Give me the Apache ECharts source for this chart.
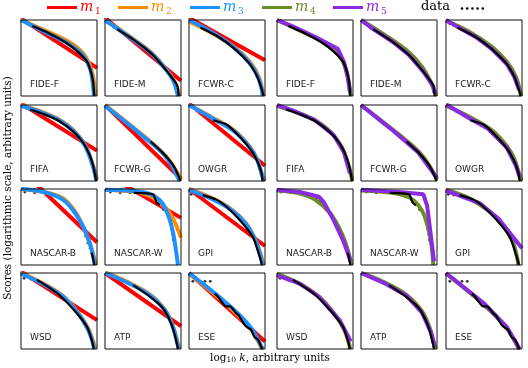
<!DOCTYPE html>
<html><head><meta charset="utf-8">
<script src="https://cdn.jsdelivr.net/npm/echarts@6/dist/echarts.min.js"></script>
<style>html,body{margin:0;padding:0;background:#fff}#c{width:528px;height:368px}</style>
</head><body><div id="c"></div>
<script>
// Panel titles (row-major, 3 per row; each shown twice: left with m1-m3, right with m4-m5)
const panelNames = ['FIDE-F','FIDE-M','FCWR-C','FIFA','FCWR-G','OWGR','NASCAR-B','NASCAR-W','GPI','WSD','ATP','ESE'];

// Coordinates are normalised log10 k (x) and log score (y), 0..1 within each panel
const dataDots = [
  [[.04,.99],[.09,.97]],
  [[.04,.96],[.12,.9]],
  [[.05,.95],[.1,.93]],
  [[.04,.98],[.08,.96]],
  [[.03,.97],[.08,.93],[.12,.9],[.16,.86],[.2,.83],[.24,.8],[.28,.77],[.32,.74],[.36,.71],[.4,.68],[.44,.65],[.48,.61],[.52,.58],[.56,.55]],
  [[.05,.99],[.14,.91],[.21,.88]],
  [[.05,.96],[.18,.95],[.32,.95],[.4,.93],[.46,.91],[.52,.88],[.57,.84],[.62,.79],[.66,.74],[.7,.69],[.74,.63],[.78,.55],[.82,.46],[.85,.38],[.88,.29],[.91,.22],[.93,.16]],
  [[.07,.96],[.2,.95],[.33,.95],[.42,.95],[.5,.94],[.72,.79],[.77,.73],[.84,.63],[.87,.55],[.88,.47],[.89,.4],[.9,.33]],
  [[.03,.93],[.1,.92]],
  [[.04,.93],[.13,.92]],
  [[.04,.99],[.13,.95],[.24,.91]],
  [[.05,.89],[.14,.89],[.21,.89],[.28,.89]]
];
const dataLine = [
  [[.15,.92],[.2,.9],[.36,.83],[.58,.71],[.75,.58],[.87,.45],[.92,.32],[.95,.18],[.96,.05],[.965,0]],
  [[.16,.88],[.42,.71],[.63,.54],[.82,.32],[.95,.14],[.97,0]],
  [[.15,.9],[.4,.77],[.6,.62],[.8,.42],[.9,.25],[.96,.08],[.98,0]],
  [[.12,.94],[.3,.88],[.5,.79],[.7,.64],[.82,.5],[.9,.35],[.95,.2],[.98,.05],[.99,0]],
  [[.6,.52],[.75,.38],[.85,.27],[.92,.17],[.97,.06],[.99,0]],
  [[.32,.8],[.5,.74],[.67,.58],[.8,.43],[.89,.28],[.95,.12],[.97,0]],
  [[.93,.16],[.96,.03],[.965,0]],
  [[.38,.95],[.63,.93],[.68,.82],[.72,.79]],
  [[.18,.92],[.36,.86],[.5,.76],[.67,.59],[.84,.37],[.93,.11],[.96,0]],
  [[.21,.91],[.47,.74],[.7,.51],[.87,.29],[.93,.12],[.96,0]],
  [[.37,.84],[.59,.69],[.76,.54],[.86,.36],[.92,.18],[.95,.05],[.96,0]],
  [[.34,.73],[.38,.69],[.49,.56],[.54,.56],[.62,.47],[.65,.45],[.73,.32],[.76,.29],[.82,.25],[.86,.16],[.91,.12],[.95,.03],[.97,0]]
];
const m1 = [
  [[0,1.02],[1,.37]], [[0,1.03],[1,.2]], [[0,1.03],[1,.47]], [[0,1.02],[1,.4]],
  [[0,1.0],[1,.03]], [[0,1.02],[1,.2]], [[0,1.25],[1,.3]], [[0,1.2],[1,.62]],
  [[0,1.0],[1,.25]], [[0,1.02],[1,.38]], [[0,1.0],[1,.3]], [[0,1.0],[1,.1]]
];
const m2 = [
  [[0,1.0],[.3,.87],[.6,.73],[.8,.58],[.9,.42],[.95,.25],[.98,0]],
  [[0,1.0],[.3,.8],[.6,.58],[.8,.36],[.92,.18],[.98,0]],
  [[0,.98],[.3,.83],[.6,.64],[.8,.45],[.92,.25],[.98,0]],
  [[0,1.0],[.3,.9],[.5,.81],[.7,.66],[.85,.46],[.95,.2],[1,.02]],
  [[0,1.0],[.5,.6],[.8,.33],[1,.02]],
  [[0,1.0],[.3,.84],[.6,.66],[.8,.45],[.9,.28],[.97,.05],[1,0]],
  [[0,1.0],[.3,.96],[.55,.88],[.7,.72],[.82,.5],[.9,.3],[.96,.1],[.99,0]],
  [[0,.99],[.4,.96],[.6,.9],[.8,.75],[.9,.6],[.97,.44],[1,.36]],
  [[0,1.0],[.3,.88],[.55,.74],[.75,.55],[.88,.32],[.95,.12],[.98,0]],
  [[0,1.0],[.3,.86],[.55,.7],[.75,.48],[.88,.28],[.95,.1],[.98,0]],
  [[0,1.01],[.3,.88],[.6,.71],[.8,.5],[.9,.28],[.96,.07],[.98,0]],
  [[0,.99],[.5,.58],[.8,.28],[.96,0]]
];
const m3 = [
  [[0,1.0],[.3,.85],[.6,.7],[.8,.55],[.9,.38],[.94,.2],[.96,0]],
  [[0,1.0],[.3,.79],[.6,.57],[.8,.35],[.9,.2],[.96,0]],
  [[0,1.0],[.3,.84],[.6,.63],[.8,.43],[.92,.22],[.97,0]],
  [[0,.99],[.3,.89],[.5,.8],[.7,.65],[.85,.45],[.95,.18],[.99,0]],
  [[0,.99],[.5,.59],[.8,.32],[.98,0]],
  [[0,1.0],[.3,.83],[.6,.65],[.8,.44],[.9,.27],[.96,.08],[.98,0]],
  [[0,1.0],[.3,.96],[.55,.86],[.7,.7],[.82,.5],[.9,.3],[.95,.12],[.97,0]],
  [[0,.99],[.4,.97],[.6,.93],[.75,.82],[.85,.6],[.9,.4],[.94,.15],[.96,0]],
  [[0,.99],[.3,.87],[.55,.73],[.75,.54],[.88,.31],[.94,.12],[.97,0]],
  [[0,.99],[.3,.85],[.55,.69],[.75,.47],[.88,.26],[.94,.1],[.96,0]],
  [[0,1.0],[.3,.87],[.6,.7],[.8,.49],[.9,.27],[.95,.08],[.97,0]],
  [[0,1.0],[.5,.6],[.8,.3],[.97,0]]
];
const m4 = [
  [[0,1.0],[.3,.86],[.6,.71],[.8,.55],[.9,.38],[.95,.15],[.97,0]],
  [[0,1.0],[.3,.81],[.6,.6],[.8,.39],[.92,.18],[.99,0]],
  [[0,.99],[.3,.85],[.6,.65],[.8,.45],[.92,.25],[.99,0]],
  [[0,.99],[.3,.89],[.5,.8],[.7,.65],[.85,.45],[.95,.18],[.99,0]],
  [[0,1.0],[.5,.61],[.8,.34],[1,.02]],
  [[0,.99],[.3,.85],[.6,.67],[.8,.46],[.9,.29],[.96,.1],[.99,0]],
  [[0,.98],[.3,.94],[.5,.86],[.7,.68],[.85,.42],[.93,.2],[.98,0]],
  [[0,.98],[.4,.95],[.65,.88],[.8,.72],[.88,.5],[.93,.25],[.95,0]],
  [[0,.99],[.3,.88],[.55,.72],[.75,.52],[.88,.3],[.94,.08],[.95,0]],
  [[0,.99],[.3,.86],[.55,.69],[.75,.47],[.88,.26],[.95,.06],[.96,0]],
  [[0,1.0],[.3,.88],[.6,.71],[.8,.5],[.9,.29],[.96,.08],[.98,0]],
  [[0,.99],[.5,.58],[.8,.27],[.96,0]]
];
const m5 = [
  [[0,1.0],[.2,.92],[.5,.78],[.8,.62],[.88,.45],[.93,.25],[.96,.05]],
  [[0,1.0],[.16,.88],[.42,.71],[.63,.54],[.82,.32],[.95,.13],[.97,.03]],
  [[0,1.0],[.15,.91],[.4,.77],[.6,.62],[.8,.42],[.9,.25],[.96,.08]],
  [[0,1.0],[.2,.93],[.5,.8],[.75,.6],[.88,.38],[.96,.1]],
  [[0,1.0],[.4,.68],[.75,.38],[1,.04]],
  [[0,1.01],[.3,.83],[.55,.69],[.8,.44],[.92,.2],[.97,.05]],
  [[0,.99],[.3,.96],[.55,.9],[.62,.82],[.75,.58],[.88,.3],[.97,.05]],
  [[0,.99],[.5,.96],[.82,.93],[.87,.78],[.93,.3],[.96,.05]],
  [[0,.98],[.45,.81],[.7,.6],[1,.22]],
  [[0,.97],[.3,.86],[.55,.69],[.83,.37],[.97,.1]],
  [[0,1.0],[.3,.87],[.6,.7],[.8,.48],[.92,.22],[.97,.03]],
  [[0,1.0],[.5,.6],[.8,.29],[.97,0]]
];

const modelNames = ['m1','m2','m3','m4','m5'];
const modelColors = ['#ff0000','#ff8c00','#1e90ff','#6b8e23','#8a2be2'];

const colLeft = [21,105,189,277,361,446];
const rowTop = [20,105,189,273];
const panelSize = 76;

const grids = [], xAxes = [], yAxes = [], series = [], graphics = [];
let gi = 0;
function addPanel(p, col, right) {
  const r = Math.floor(p / 3);
  const left = colLeft[col], top = rowTop[r];
  grids.push({left: left, top: top, width: panelSize, height: panelSize, show: true, borderColor: '#111', borderWidth: 1, backgroundColor: 'transparent', z: 10});
  xAxes.push({gridIndex: gi, type: 'value', min: 0, max: 1, show: false});
  yAxes.push({gridIndex: gi, type: 'value', min: 0, max: 1, show: false});
  const models = right ? [[m4,3,true],[m5,4,false]] : [[m1,0,false],[m2,1,true],[m3,2,true]];
  models.forEach(([arr, k, sm]) => {
    series.push({type: 'line', xAxisIndex: gi, yAxisIndex: gi, data: arr[p], smooth: sm ? 0.35 : false,
      showSymbol: false, clip: true, lineStyle: {color: modelColors[k], width: 4}, silent: true, animation: false});
  });
  series.push({type: 'line', xAxisIndex: gi, yAxisIndex: gi, data: dataLine[p], smooth: 0.2, showSymbol: false, clip: true,
    lineStyle: {color: '#000', width: 2.2}, silent: true, animation: false});
  series.push({type: 'scatter', xAxisIndex: gi, yAxisIndex: gi, data: dataDots[p], symbol: 'circle', symbolSize: 2.8,
    itemStyle: {color: '#000'}, silent: true, animation: false, clip: true});
  graphics.push({type: 'text', x: left + 9, y: top + 65, style: {text: panelNames[p], font: '9px "DejaVu Sans"', fill: '#222', verticalAlign: 'middle'}, z: 100});
  gi++;
}
for (let p = 0; p < 12; p++) {
  const c = p % 3;
  addPanel(p, c, false);
  addPanel(p, c + 3, true);
}

// Legend
const legX = [47,118,190,262,333];
modelNames.forEach((n, i) => {
  const x = legX[i];
  graphics.push({type: 'line', shape: {x1: x, y1: 7.5, x2: x + 30, y2: 7.5}, style: {stroke: modelColors[i], lineWidth: 3}});
  graphics.push({type: 'text', x: x + 33, y: 7, style: {text: 'm', font: 'italic 14px "DejaVu Serif"', fill: modelColors[i], verticalAlign: 'middle'}});
  graphics.push({type: 'text', x: x + 48, y: 12, style: {text: n.slice(1), font: '9px "DejaVu Serif"', fill: modelColors[i], verticalAlign: 'middle'}});
});
graphics.push({type: 'text', x: 421, y: 7, style: {text: 'data', font: '13px "DejaVu Serif"', fill: '#000', verticalAlign: 'middle'}});
for (let i = 0; i < 5; i++) {
  graphics.push({type: 'circle', shape: {cx: 462 + i * 5.2, cy: 8.5, r: 1.3}, style: {fill: '#000'}});
}
// Axis titles
graphics.push({type: 'text', x: 270, y: 358, style: {
  text: '{a|log}{b|10}{a| }{c|k}{a|, arbitrary units}', align: 'center', verticalAlign: 'middle',
  rich: {a: {font: '10.5px "DejaVu Serif"', fill: '#000'}, b: {font: '7.5px "DejaVu Serif"', fill: '#000', padding: [5,0,0,0]}, c: {font: 'italic 10.5px "DejaVu Serif"', fill: '#000'}}
}});
graphics.push({type: 'text', x: 8, y: 188, rotation: Math.PI / 2, style: {
  text: 'Scores (logarithmic scale, arbitrary units)', font: '10.5px "DejaVu Serif"', fill: '#000', align: 'center', verticalAlign: 'middle'
}});

const chart = echarts.init(document.getElementById('c'), null, {renderer: 'canvas'});
chart.setOption({animation: false, grid: grids, xAxis: xAxes, yAxis: yAxes, series: series, graphic: graphics});
</script></body></html>
